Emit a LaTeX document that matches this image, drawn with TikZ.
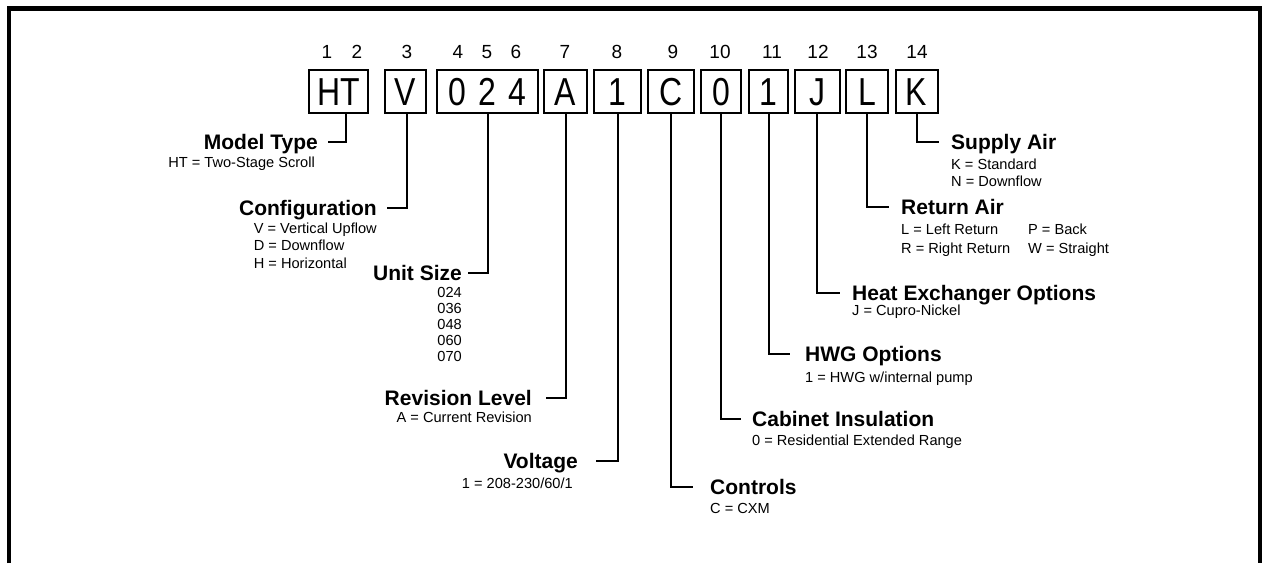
\documentclass[tikz,border=0pt]{standalone}
\usepackage{fontspec}
\setmainfont{Liberation Sans}
\newfontfamily\boxfont[FakeStretch=0.82]{Liberation Sans}

\begin{document}
\begin{tikzpicture}[x=1pt, y=-1pt,
	box/.style={draw, line width=2pt, minimum height=43pt, inner sep=0pt, text height=28pt, text depth=0pt, font=\boxfont\fontsize{39}{39}\selectfont},
	posnum/.style={inner sep=0pt, text height=13.5pt, text depth=0pt, font=\fontsize{19}{19}\selectfont},
	ttl/.style={inner sep=0pt, text height=15pt, text depth=0pt, font=\bfseries\fontsize{21}{21}\selectfont},
	sub/.style={inner sep=0pt, font=\fontsize{14.6}{17.5}\selectfont},
	conn/.style={line width=2pt}]
	\def\W{1263} \def\H{563} \def\yb{91.5} % khung
	\useasboundingbox (0,0) rectangle (\W,\H);
	\draw[line width=4.5pt] (9,\H) -- (9,8.5) -- (1260,8.5) -- (1260,\H);
	% vi tri
	\node[posnum] (n1) at (327,51.5) {1};
	\node[posnum] (n2) at (357,51.5) {2};
	\node[posnum] (n3) at (407,51.5) {3};
	\node[posnum] (n4) at (458,51.5) {4};
	\node[posnum] (n5) at (487,51.5) {5};
	\node[posnum] (n6) at (516,51.5) {6};
	\node[posnum] (n7) at (565,51.5) {7};
	\node[posnum] (n8) at (617,51.5) {8};
	\node[posnum] (n9) at (673,51.5) {9};
	\node[posnum] (n10) at (720,51.5) {10};
	\node[posnum] (n11) at (772,51.5) {11};
	\node[posnum] (n12) at (818,51.5) {12};
	\node[posnum] (n13) at (867,51.5) {13};
	\node[posnum] (n14) at (917,51.5) {14};
	% o ma
	\node[box, minimum width=59pt] (bHT) at (338.5,\yb) {HT};
	\node[box, minimum width=41pt] (bV) at (405.5,\yb) {V};
	\node[box, minimum width=101pt] (bSize) at (487.5,\yb) {0\hspace{12pt}2\hspace{12pt}4};
	\node[box, minimum width=43pt] (bA) at (565.5,\yb) {A};
	\node[box, minimum width=47pt] (bVolt) at (617.5,\yb) {1};
	\node[box, minimum width=46pt] (bC) at (671,\yb) {C};
	\node[box, minimum width=40pt] (bCab) at (721,\yb) {0};
	\node[box, minimum width=39pt] (bHWG) at (768.5,\yb) {1};
	\node[box, minimum width=45pt] (bJ) at (817,\yb) {J};
	\node[box, minimum width=42pt] (bL) at (867,\yb) {L};
	\node[box, minimum width=42pt] (bK) at (916.5,\yb) {K};
	% ben trai
	\node[ttl, anchor=east] (tModel) at (318,142) {Model Type};
	\node[sub, anchor=east] (sModel) at (315,164) {HT = Two-Stage Scroll};
	\node[ttl, anchor=east] (tConfig) at (377,208) {Configuration};
	\node[sub, anchor=north east, align=left] (sConfig) at (377,222.7) {V = Vertical Upflow\\D = Downflow\\H = Horizontal};
	\node[ttl, anchor=east] (tSize) at (462,273) {Unit Size};
	\node[sub, anchor=north east, align=right, font=\fontsize{14.6}{16}\selectfont] (sSize) at (462,286.7) {024\\036\\048\\060\\070};
	\node[ttl, anchor=east] (tRev) at (532,398) {Revision Level};
	\node[sub, anchor=east] (sRev) at (532,417) {A = Current Revision};
	\node[ttl, anchor=east] (tVolt) at (578,461) {Voltage};
	\node[sub, anchor=east] (sVolt) at (573,483) {1 = 208-230/60/1};
	% ben phai
	\node[ttl, anchor=west] (tCtrl) at (710,487) {Controls};
	\node[sub, anchor=west] (sCtrl) at (710,508) {C = CXM};
	\node[ttl, anchor=west] (tCab) at (752,419) {Cabinet Insulation};
	\node[sub, anchor=west] (sCab) at (752,442) {0 = Residential Extended Range};
	\node[ttl, anchor=west] (tHWG) at (805,354) {HWG Options};
	\node[sub, anchor=west] (sHWG) at (805,379) {1 = HWG w/internal pump};
	\node[ttl, anchor=west] (tHeat) at (852,293) {Heat Exchanger Options};
	\node[sub, anchor=west] (sHeat) at (852,312) {J = Cupro-Nickel};
	\node[ttl, anchor=west] (tRet) at (901,207) {Return Air};
	\node[sub, anchor=north west, align=left, font=\fontsize{14.6}{19}\selectfont] (sRet) at (901,223.7) {L = Left Return\\R = Right Return};
	\node[sub, anchor=north west, align=left, font=\fontsize{14.6}{19}\selectfont] (sRet2) at (1028,223.7) {P = Back\\W = Straight};
	\node[ttl, anchor=west] (tSup) at (951,142) {Supply Air};
	\node[sub, anchor=north west, align=left, font=\fontsize{14.6}{17}\selectfont] (sSup) at (951,158.7) {K = Standard\\N = Downflow};
	% duong noi
	\draw[conn] ([xshift=7.5pt]bHT.south) |- ([xshift=10pt]tModel.east);
	\draw[conn] ([xshift=1.5pt]bV.south) |- ([xshift=10pt]tConfig.east);
	\draw[conn] (bSize.south) |- ([xshift=6pt]tSize.east);
	\draw[conn] (bA.south) |- ([xshift=14pt]tRev.east);
	\draw[conn] (bVolt.south) |- ([xshift=18pt]tVolt.east);
	\draw[conn] (bC.south) |- ([xshift=-17pt]tCtrl.west);
	\draw[conn] (bCab.south) |- ([xshift=-11pt]tCab.west);
	\draw[conn] (bHWG.south) |- ([xshift=-15pt]tHWG.west);
	\draw[conn] (bJ.south) |- ([xshift=-12pt]tHeat.west);
	\draw[conn] (bL.south) |- ([xshift=-12pt]tRet.west);
	\draw[conn] (bK.south) |- ([xshift=-12pt]tSup.west);
\end{tikzpicture}
\end{document}
